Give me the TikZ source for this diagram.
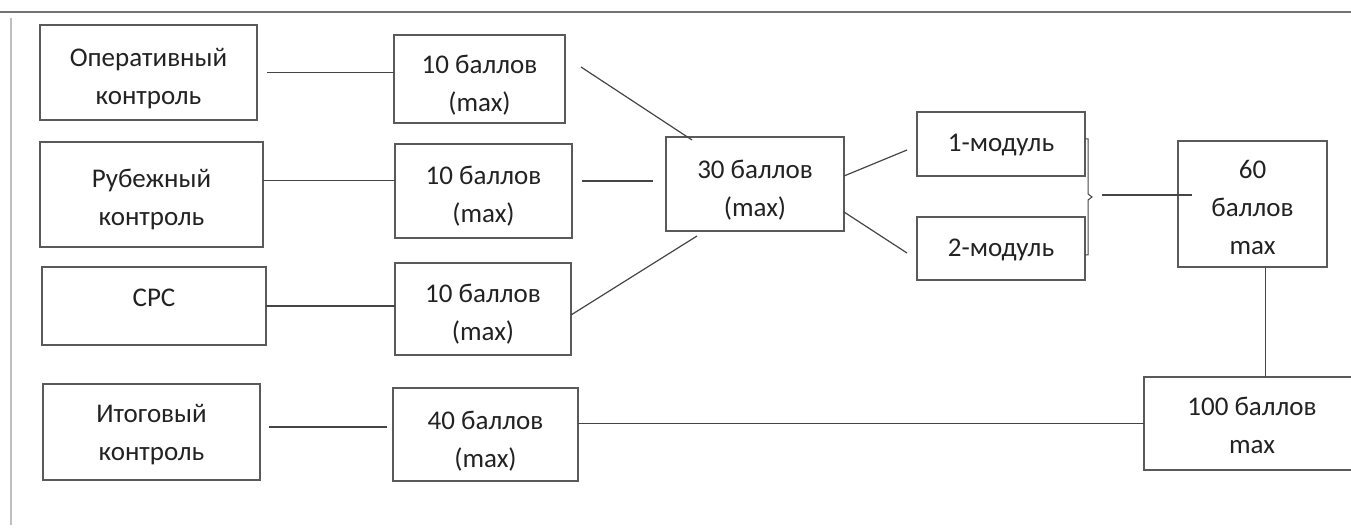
\documentclass[tikz,border=0pt]{standalone}
\usepackage{fontspec}
\setmainfont{Carlito}
\usetikzlibrary{calc}
\definecolor{boxline}{HTML}{5A5A5A}
\definecolor{conline}{HTML}{454545}
\definecolor{txt}{HTML}{222222}
\newcommand\boxtxt[2][-5pt]{\raisebox{#1}[\height][\depth]{\begin{tabular}{@{}c@{}}#2\end{tabular}}}
\begin{document}
\begin{tikzpicture}[x=1pt,y=-1pt,
  box/.style={draw=boxline,line width=1.3pt,inner sep=0pt,outer sep=0pt,
    text=txt,font=\fontsize{27}{38}\selectfont},
  con/.style={draw=conline,line width=1.2pt}]
\useasboundingbox (0,0) rectangle (1351,529);
\begin{scope}
\clip (0,0) rectangle (1351,529);
% scan frame lines
\draw[draw=black!55,line width=2pt] (0,12) -- (1351,12);
\draw[draw=black!25,line width=1.5pt] (11,18) -- (11,525);
% column A
\node[box,minimum width=217pt,minimum height=95pt] (A1) at (148.5,72.5) {\boxtxt[-5pt]{Оперативный\\контроль}};
\node[box,minimum width=223pt,minimum height=105pt] (A2) at (151.5,194.5) {\boxtxt[-4pt]{Рубежный\\контроль}};
\node[box,minimum width=224pt,minimum height=78pt] (A3) at (154,306) {\boxtxt[7pt]{СРС}};
\node[box,minimum width=217pt,minimum height=96pt] (A4) at (151.5,432) {\boxtxt[-2pt]{Итоговый\\контроль}};
% column B
\node[box,minimum width=171pt,minimum height=88pt] (B1) at (479.5,79) {\boxtxt[-6pt]{10 баллов\\(max)}};
\node[box,minimum width=177pt,minimum height=94pt] (B2) at (483.5,191) {\boxtxt[-5pt]{10 баллов\\(max)}};
\node[box,minimum width=176pt,minimum height=92pt] (B3) at (483,309) {\boxtxt[-5pt]{10 баллов\\(max)}};
\node[box,minimum width=185pt,minimum height=93pt] (B4) at (485.5,434.5) {\boxtxt[-6pt]{40 баллов\\(max)}};
% middle
\node[box,minimum width=178pt,minimum height=94pt] (C) at (755,184) {\boxtxt[-6pt]{30 баллов\\(max)}};
\node[box,minimum width=168pt,minimum height=64pt] (D1) at (1001,144) {\boxtxt[0pt]{1-модуль}};
\node[box,minimum width=168pt,minimum height=63pt] (D2) at (1001,248.5) {\boxtxt[0pt]{2-модуль}};
\node[box,minimum width=149pt,minimum height=126pt] (E) at (1252.5,204) {\boxtxt[-5pt]{60\\баллов\\max}};
\node[box,minimum width=216pt,minimum height=93pt] (F) at (1252,423.5) {\boxtxt[-3pt]{100 баллов\\max}};
% connectors A -> B
\draw[con,shorten <=10pt] (A1.east) -- (A1.east -| B1.west);
\draw[con] ([yshift=14pt]A2.east) -- ([yshift=14pt]A2.east -| B2.west);
\draw[con] (A3.east) -- (A3.east -| B3.west);
\draw[con,shorten <=9pt,shorten >=6pt] ([yshift=5pt]A4.east) -- ([yshift=5pt]A4.east -| B4.west);
% B -> C
\draw[con] ([xshift=16pt,yshift=12pt]B1.east) -- ([xshift=-63pt,yshift=-3pt]C.north);
\draw[con] ([xshift=10pt,yshift=10pt]B2.east) -- ([xshift=-13pt,yshift=3pt]C.west);
\draw[con] ([yshift=-6pt]B3.east) -- ([xshift=-58pt,yshift=-5pt]C.south);
% C -> D
\draw[con] ([yshift=8pt]C.east) -- ([xshift=-10pt,yshift=-6pt]D1.west);
\draw[con] ([yshift=-28pt]C.east) -- ([xshift=-10pt,yshift=-4.5pt]D2.west);
% bracket
\coordinate (bt) at ([xshift=3pt,yshift=5pt]D1.east);
\coordinate (bb) at ([xshift=3pt,yshift=-6.5pt]D2.east);
\coordinate (bm) at ($(bt)!0.5!(bb)$);
\draw[con,line width=1pt] (D1.east |- bt) -- (bt) -- ([yshift=3pt]bm) -- ([xshift=4pt]bm) -- ([yshift=-3pt]bm) -- (bb) -- (D2.east |- bb);
\draw[con] ([xshift=14pt,yshift=2pt]bm) -- ([xshift=14pt,yshift=2pt]bm -| E.west);
% E -> F, B4 -> F
\draw[con,line width=1pt] ([xshift=12.5pt]E.south) -- ([xshift=12.5pt]E.south |- F.north);
\draw[con] (F.west -| B4.east) -- (F.west);
\end{scope}
\end{tikzpicture}
\end{document}
